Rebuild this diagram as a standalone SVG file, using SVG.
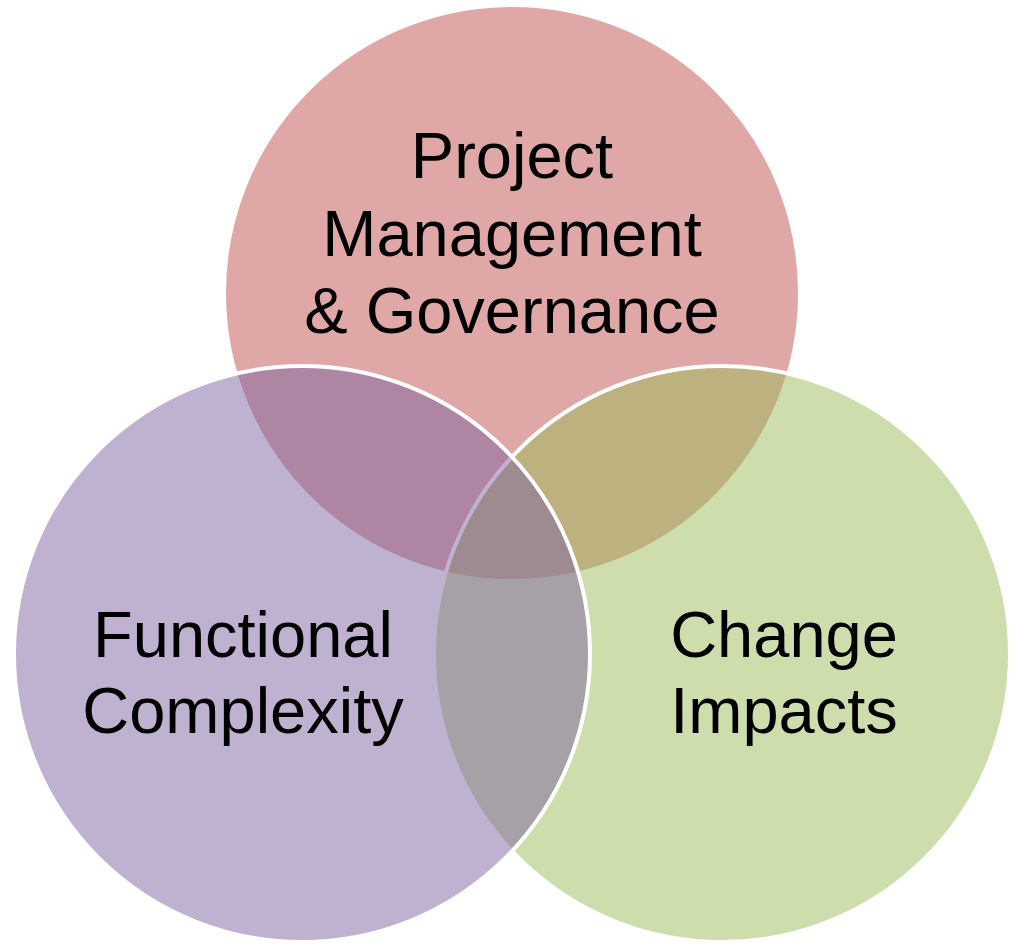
<svg xmlns="http://www.w3.org/2000/svg" width="1012" height="944" viewBox="0 0 1012 944">
<style>
.c{stroke:#FFFFFF;stroke-width:4;}
.t{font-family:"Liberation Sans",Arial,sans-serif;font-size:65px;fill:#000000;text-anchor:middle;}
</style>
<rect width="1012" height="944" fill="#FFFFFF"/>
<g id="pm">
<circle class="c" cx="512" cy="293" r="288" fill="rgba(192,80,77,0.5)"/>
</g>
<g id="ci">
<circle class="c" cx="722" cy="654" r="288" fill="rgba(155,187,89,0.5)"/>
</g>
<g id="fc">
<circle class="c" cx="302" cy="654" r="288" fill="rgba(128,100,162,0.5)"/>
</g>
<g id="labels">
<text class="t" x="512" y="178">Project</text>
<text class="t" x="512" y="256">Management</text>
<text class="t" x="512" y="333">&amp; Governance</text>
<text class="t" x="243" y="657">Functional</text>
<text class="t" x="243" y="733">Complexity</text>
<text class="t" x="784" y="657">Change</text>
<text class="t" x="784" y="733">Impacts</text>
</g>
<g id="connectors"/>
</svg>
